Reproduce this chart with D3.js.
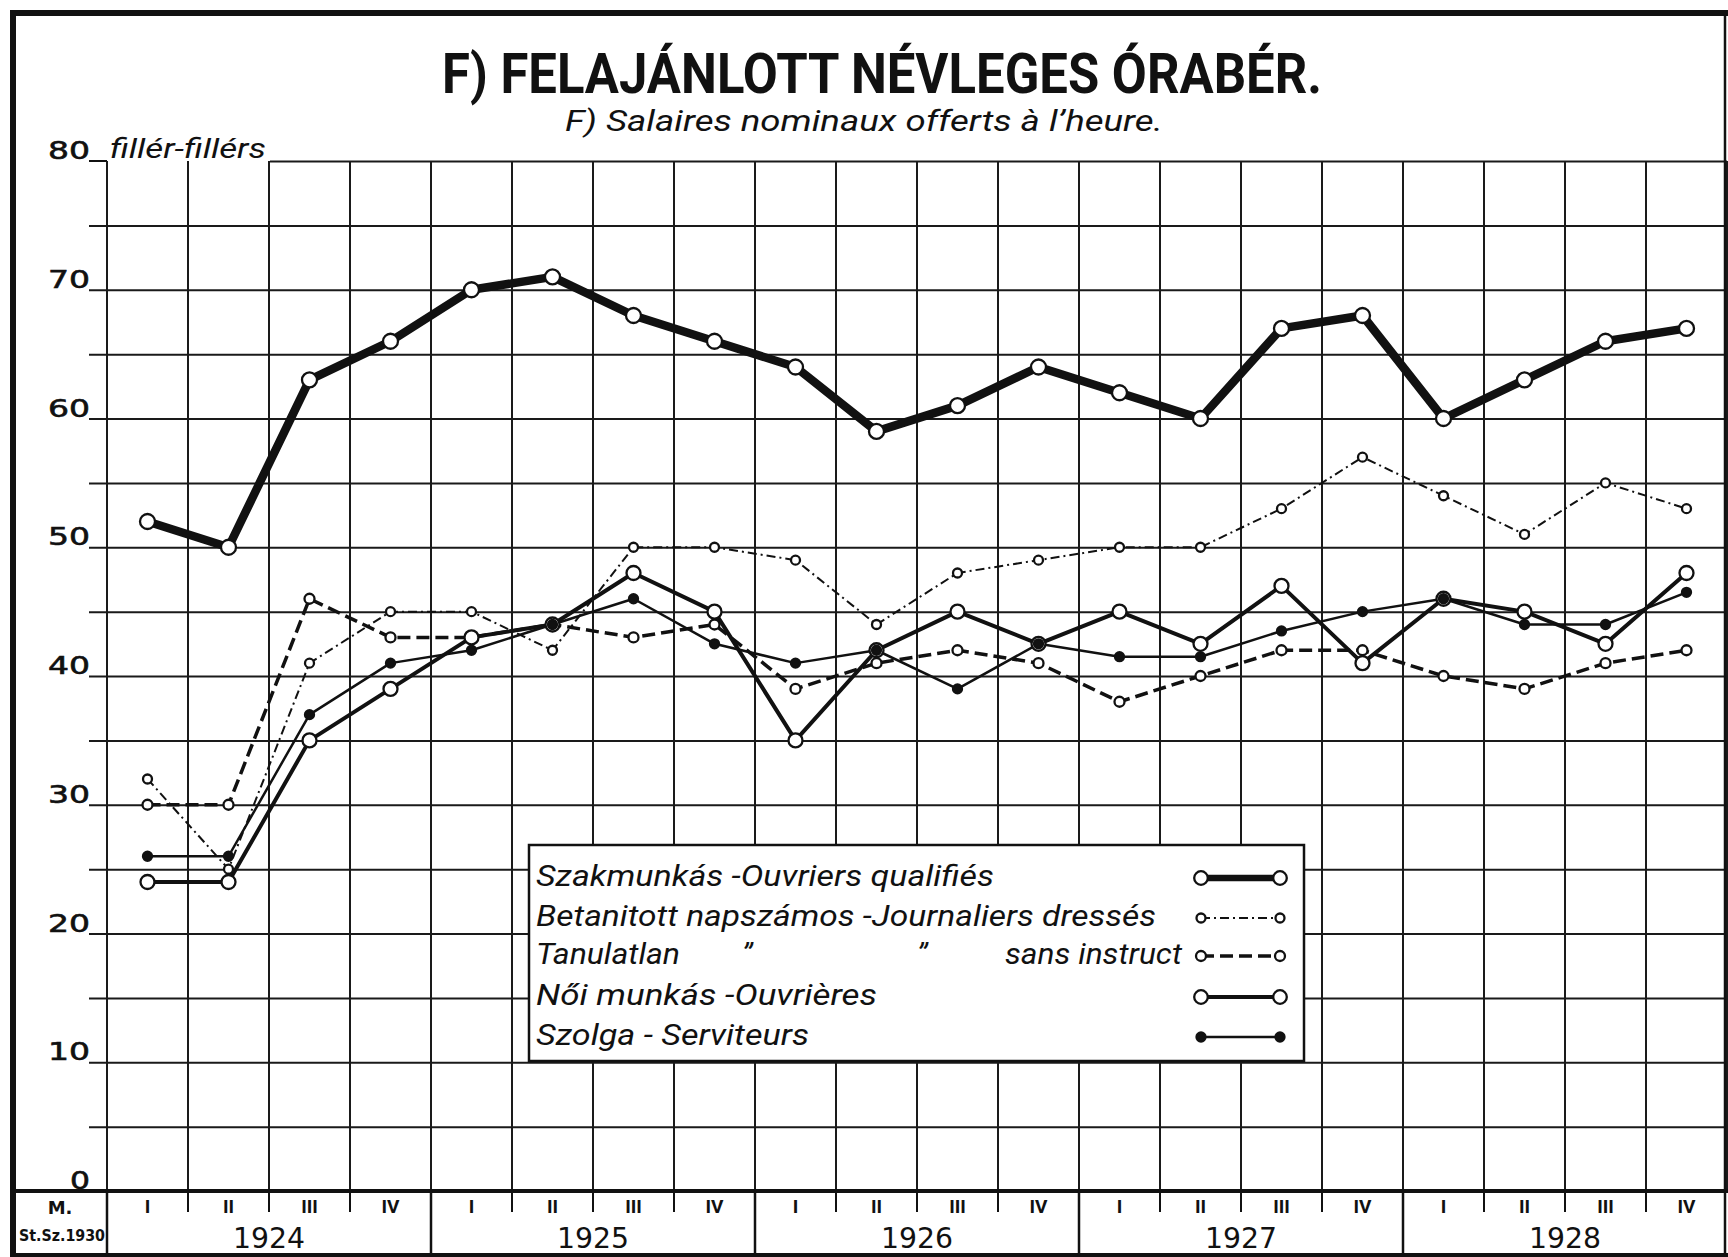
<!DOCTYPE html>
<html>
<head>
<meta charset="utf-8">
<script src="https://cdn.jsdelivr.net/npm/d3@7"></script>
<style>
    html, body { margin: 0; padding: 0; background: #fff; }
    svg { display: block; }
</style>
</head>
<body>
<div id="chart"></div>
<script>
// ---- data ----
const years = ['1924', '1925', '1926', '1927', '1928'];
const quarterLabels = ['I', 'II', 'III', 'IV'];
const yTickValues = [0, 5, 10, 15, 20, 25, 30, 35, 40, 45, 50, 55, 60, 65, 70, 75, 80];
const yTickLabels = { 0: '0', 10: '10', 20: '20', 30: '30', 40: '40', 50: '50', 60: '60', 70: '70', 80: '80' };

// fillér / hour, 1924 I -> 1928 IV
const szakmunkas = [52, 50, 63, 66, 70, 71, 68, 66, 64, 59, 61, 64, 62, 60, 67, 68, 60, 63, 66, 67];
const betanitott = [32, 25, 41, 45, 45, 42, 50, 50, 49, 44, 48, 49, 50, 50, 53, 57, 54, 51, 55, 53];
const tanulatlan = [30, 30, 46, 43, 43, 44, 43, 44, 39, 41, 42, 41, 38, 40, 42, 42, 40, 39, 41, 42];
const noiMunkas = [24, 24, 35, 39, 43, 44, 48, 45, 35, 42, 45, 42.5, 45, 42.5, 47, 41, 46, 45, 42.5, 48];
const szolga = [26, 26, 37, 41, 42, 44, 46, 42.5, 41, 42, 39, 42.5, 41.5, 41.5, 43.5, 45, 46, 44, 44, 46.5];

const legendLabels = [
    'Szakmunkás -Ouvriers qualifiés',
    'Betanitott napszámos -Journaliers dressés',
    'Tanulatlan',
    'Női munkás -Ouvrières',
    'Szolga - Serviteurs'
];

const titleText = 'F) FELAJÁNLOTT NÉVLEGES ÓRABÉR.';
const subtitleText = 'F) Salaires nominaux offerts à l\u2019heure.';
const unitText = 'fillér-fillérs';

// line / marker look of each series
const seriesStyle = [
    { data: szakmunkas, width: 8.5, dash: null, r: 7.5, fill: '#fff', legendWidth: 6.5 },
    { data: betanitott, width: 2, dash: '9,4,2,4', r: 4.5, fill: '#fff', legendWidth: 2 },
    { data: tanulatlan, width: 3.5, dash: '13,6', r: 5, fill: '#fff', legendWidth: 3.5 },
    { data: noiMunkas, width: 4, dash: null, r: 7, fill: '#fff', legendWidth: 4 },
    { data: szolga, width: 2.5, dash: null, r: 4.5, fill: '#111', legendWidth: 2.5 }
];

const ITAL = 'Roboto, "Liberation Sans", sans-serif';
const NUM = '"DejaVu Sans", sans-serif';

class WageChart {

    width; height;
    svg;
    plot; // {left, right, top, bottom}
    scaleX; scaleY;
    periods;

    constructor(container, width, height) {
        this.width = width;
        this.height = height;
        this.plot = { left: 107, right: 1727, top: 161, bottom: 1191 };
        this.svg = d3.select(container).append('svg')
            .attr('width', width).attr('height', height);
    }

    //--- #updateScales ---------------------------------------------------
    #updateScales() {
        this.periods = years.flatMap(y => quarterLabels.map(q => `${y}-${q}`));
        this.scaleX = d3.scaleBand(this.periods, [this.plot.left, this.plot.right]);
        this.scaleY = d3.scaleLinear([0, 80], [this.plot.bottom, this.plot.top]);
    }

    cx(i) { return this.scaleX(this.periods[i]) + this.scaleX.bandwidth() / 2; }

    //--- #drawGrid -------------------------------------------------------
    #drawGrid() {
        const p = this.plot;
        const gridStart = 89;

        // horizontal lines + value labels through an axis
        const axisY = this.svg.append('g')
            .attr('transform', `translate(${gridStart},0)`)
            .call(d3.axisLeft(this.scaleY)
                .tickValues(yTickValues)
                .tickSize(-(p.right - gridStart))
                .tickPadding(0)
                .tickFormat(d => yTickLabels[d] || ''));
        axisY.select('.domain').remove();
        axisY.selectAll('.tick line')
            .attr('stroke', '#1a1a1a').attr('stroke-width', 2)
            .attr('x1', d => d === 80 ? 181 : 0);
        axisY.selectAll('.tick text')
            .attr('x', 1).attr('dy', -2.5)
            .attr('fill', '#111').attr('stroke', '#111').attr('stroke-width', 0.6)
            .style('font-family', NUM).style('font-size', '24px')
            .attr('textLength', d => (yTickLabels[d] || '').length * 22 - 2)
            .attr('lengthAdjust', 'spacingAndGlyphs');

        // short piece of the 80 line left of the axis
        this.svg.append('line')
            .attr('x1', gridStart).attr('x2', p.left)
            .attr('y1', this.scaleY(80)).attr('y2', this.scaleY(80))
            .attr('stroke', '#111').attr('stroke-width', 2);

        // vertical quarter lines
        const bounds = this.periods.map(d => this.scaleX(d)).concat([p.right]);
        this.svg.append('g').selectAll('line')
            .data(bounds).join('line')
            .attr('x1', d => d).attr('x2', d => d)
            .attr('y1', p.top).attr('y2', p.bottom)
            .attr('stroke', '#1a1a1a').attr('stroke-width', 2);

        // unit label
        this.svg.append('text')
            .attr('x', 110).attr('y', p.top - 3)
            .attr('textLength', 156).attr('lengthAdjust', 'spacingAndGlyphs')
            .style('font-family', ITAL).style('font-style', 'italic')
            .style('font-size', '28px').attr('fill', '#111')
            .text(unitText);
    }

    //--- #drawFrame ------------------------------------------------------
    #drawFrame() {
        const p = this.plot;
        const g = this.svg.append('g').attr('stroke', '#111').attr('fill', 'none');
        g.append('line').attr('x1', 10).attr('x2', this.width).attr('y1', 13).attr('y2', 13).attr('stroke-width', 6);
        g.append('line').attr('x1', 13).attr('x2', 13).attr('y1', 10).attr('y2', this.height).attr('stroke-width', 6);
        g.append('line').attr('x1', 13).attr('x2', this.width).attr('y1', 1255).attr('y2', 1255).attr('stroke-width', 4);
        g.append('line').attr('x1', 1725).attr('x2', 1725).attr('y1', 13).attr('y2', 1255).attr('stroke-width', 2.5);
        // base line under the plot
        g.append('line').attr('x1', 13).attr('x2', this.width).attr('y1', p.bottom).attr('y2', p.bottom).attr('stroke-width', 4);

        // time band: quarter ticks and year separators
        const band = this.svg.append('g');
        band.selectAll('line.q')
            .data(this.periods.filter((d, i) => i % 4 !== 0))
            .join('line')
            .attr('x1', d => this.scaleX(d)).attr('x2', d => this.scaleX(d))
            .attr('y1', p.bottom).attr('y2', p.bottom + 21)
            .attr('stroke', '#111').attr('stroke-width', 2);
        band.selectAll('line.y')
            .data(years)
            .join('line')
            .attr('x1', d => this.scaleX(`${d}-I`)).attr('x2', d => this.scaleX(`${d}-I`))
            .attr('y1', p.bottom).attr('y2', 1255)
            .attr('stroke', '#111').attr('stroke-width', 2.5);

        band.selectAll('text.q')
            .data(this.periods).join('text')
            .attr('x', (d, i) => this.cx(i)).attr('y', 1213)
            .attr('text-anchor', 'middle')
            .style('font-family', '"Liberation Sans Narrow", Roboto, sans-serif')
            .style('font-weight', 'bold').style('font-size', '19px').attr('fill', '#111')
            .text(d => d.split('-')[1]);

        band.selectAll('text.y')
            .data(years).join('text')
            .attr('x', d => this.scaleX(`${d}-II`) + this.scaleX.bandwidth())
            .attr('y', 1248)
            .attr('text-anchor', 'middle')
            .attr('textLength', 72).attr('lengthAdjust', 'spacingAndGlyphs')
            .style('font-family', NUM).style('font-size', '29px').attr('fill', '#111')
            .text(d => d);

        band.append('text')
            .attr('x', 60).attr('y', 1214).attr('text-anchor', 'middle')
            .style('font-family', NUM).style('font-weight', 'bold').style('font-size', '18px')
            .attr('fill', '#111').text('M.');
        band.append('text')
            .attr('x', 19).attr('y', 1241)
            .attr('textLength', 86).attr('lengthAdjust', 'spacingAndGlyphs')
            .style('font-family', NUM).style('font-weight', 'bold').style('font-size', '16px')
            .attr('fill', '#111').text('St.Sz.1930');
    }

    //--- #drawTitle ------------------------------------------------------
    #drawTitle() {
        this.svg.append('text')
            .attr('x', 882).attr('y', 93).attr('text-anchor', 'middle')
            .attr('textLength', 880).attr('lengthAdjust', 'spacingAndGlyphs')
            .style('font-family', 'Roboto, "DejaVu Sans", sans-serif')
            .style('font-weight', 'bold').style('font-size', '55px').attr('fill', '#111')
            .text(titleText);
        this.svg.append('text')
            .attr('x', 864).attr('y', 131).attr('text-anchor', 'middle')
            .attr('textLength', 598).attr('lengthAdjust', 'spacingAndGlyphs')
            .style('font-family', ITAL).style('font-style', 'italic')
            .style('font-size', '30px').attr('fill', '#111')
            .text(subtitleText);
    }

    //--- #drawSeries -----------------------------------------------------
    #drawSeries() {
        const line = d3.line()
            .x((d, i) => this.cx(i))
            .y(d => this.scaleY(d));

        const g = this.svg.append('g');
        g.selectAll('path')
            .data(seriesStyle).join('path')
            .attr('d', d => line(d.data))
            .attr('fill', 'none').attr('stroke', '#111')
            .attr('stroke-width', d => d.width)
            .attr('stroke-dasharray', d => d.dash)
            .attr('stroke-linejoin', 'round');

        seriesStyle.forEach(s => {
            g.append('g').selectAll('circle')
                .data(s.data).join('circle')
                .attr('cx', (d, i) => this.cx(i))
                .attr('cy', d => this.scaleY(d))
                .attr('r', s.r)
                .attr('fill', s.fill).attr('stroke', '#111').attr('stroke-width', 2.3);
        });
    }

    //--- #drawLegend -----------------------------------------------------
    #drawLegend() {
        const g = this.svg.append('g');
        g.append('rect')
            .attr('x', 529).attr('y', 845).attr('width', 775).attr('height', 216)
            .attr('fill', '#fff').attr('stroke', '#111').attr('stroke-width', 2.5);

        const baselines = [886, 926, 964, 1005, 1045];
        const symbolY = [878, 918, 956, 997, 1037];
        const lengths = [458, 620, 144, 341, 273];

        legendLabels.forEach((label, i) => {
            g.append('text')
                .attr('x', 536).attr('y', baselines[i])
                .attr('textLength', lengths[i]).attr('lengthAdjust', 'spacingAndGlyphs')
                .style('font-family', ITAL).style('font-style', 'italic')
                .style('font-size', '30px').attr('fill', '#111')
                .text(label);

            const s = seriesStyle[i];
            g.append('line')
                .attr('x1', 1201).attr('x2', 1280)
                .attr('y1', symbolY[i]).attr('y2', symbolY[i])
                .attr('stroke', '#111').attr('stroke-width', s.legendWidth)
                .attr('stroke-dasharray', s.dash);
            g.selectAll(null).data([1201, 1280]).join('circle')
                .attr('cx', d => d).attr('cy', symbolY[i])
                .attr('r', Math.min(s.r, 6.8))
                .attr('fill', s.fill).attr('stroke', '#111').attr('stroke-width', 2.3);
        });

        // ditto marks and the rest of the third entry
        [742, 917].forEach(x => g.append('text')
            .attr('x', x).attr('y', 964)
            .style('font-family', ITAL).style('font-style', 'italic')
            .style('font-size', '30px').attr('fill', '#111').text('\u201D'));
        g.append('text')
            .attr('x', 1005).attr('y', 964)
            .attr('textLength', 177).attr('lengthAdjust', 'spacingAndGlyphs')
            .style('font-family', ITAL).style('font-style', 'italic')
            .style('font-size', '30px').attr('fill', '#111')
            .text('sans instruct');
    }

    //--- render ----------------------------------------------------------
    render() {
        this.#updateScales();
        this.#drawGrid();
        this.#drawFrame();
        this.#drawTitle();
        this.#drawSeries();
        this.#drawLegend();
        return this;
    }
}

new WageChart('#chart', 1728, 1257).render();
</script>
</body>
</html>
